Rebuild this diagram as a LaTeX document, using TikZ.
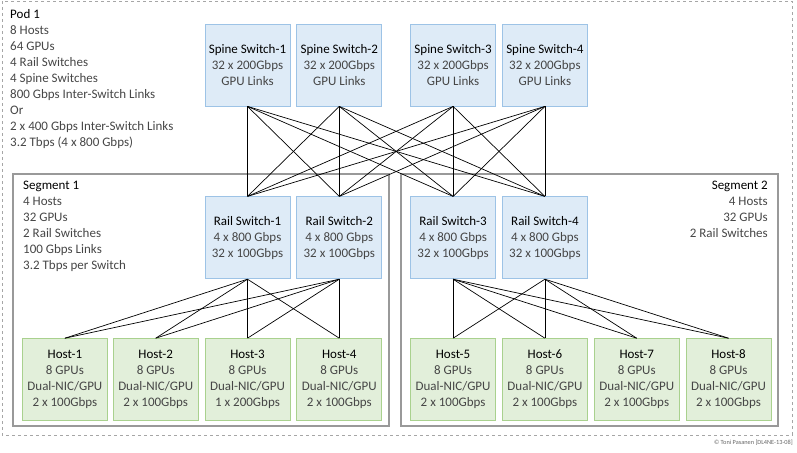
\documentclass[tikz,border=0pt]{standalone}
\usepackage{fontspec}
\setmainfont{Carlito}
\usepackage{tikz}
\usetikzlibrary{positioning}

\definecolor{spineFill}{RGB}{222,235,247}
\definecolor{spineDraw}{RGB}{157,195,230}
\definecolor{hostFill}{RGB}{226,239,218}
\definecolor{hostDraw}{RGB}{169,209,142}
\definecolor{textGray}{RGB}{70,70,70}

\begin{document}
\begin{tikzpicture}[x=1pt, y=-1pt, node distance=6pt]
\tikzset{
    switchStyle/.style={rectangle, fill=spineFill, draw=spineDraw, line width=0.8pt, minimum width=85pt, minimum height=82pt, inner sep=0pt, align=center, text=textGray, font=\fontsize{13}{16}\selectfont},
    hostStyle/.style={rectangle, fill=hostFill, draw=hostDraw, line width=0.8pt, minimum width=85pt, minimum height=82pt, inner sep=0pt, align=center, text=textGray, font=\fontsize{13}{16}\selectfont},
    infoStyle/.style={inner sep=0pt, text=textGray, font=\fontsize{13}{16}\selectfont},
    podLine/.style={draw=black!35, dashed, line width=0.8pt},
    segmentLine/.style={draw=black!40, line width=1.1pt},
    linkLine/.style={black, line width=0.7pt}
}

\useasboundingbox (0,0) rectangle (797,452);

% pod and segments
\draw[podLine] (2,1) rectangle (792,435);
\draw[segmentLine] (13,174) rectangle (389,426);
\draw[segmentLine] (401,174) rectangle (778,426);

\node[infoStyle, anchor=north west, align=left] (podInfo) at (10,9) {{\color{black}Pod 1}\\8 Hosts\\64 GPUs\\4 Rail Switches\\4 Spine Switches\\800 Gbps Inter-Switch Links\\Or\\2 x 400 Gbps Inter-Switch Links\\3.2 Tbps (4 x 800 Gbps)};
\node[infoStyle, anchor=north west, align=left] (segOneInfo) at (23,181) {{\color{black}Segment 1}\\4 Hosts\\32 GPUs\\2 Rail Switches\\100 Gbps Links\\3.2 Tbps per Switch};
\node[infoStyle, anchor=north east, align=right] (segTwoInfo) at (768,181) {{\color{black}Segment 2}\\4 Hosts\\32 GPUs\\2 Rail Switches};

% spine switches
\node[switchStyle] (spine1) at (247.5,65) {{\color{black}Spine Switch-1}\\32 x 200Gbps\\GPU Links};
\node[switchStyle, right=6pt of spine1] (spine2) {{\color{black}Spine Switch-2}\\32 x 200Gbps\\GPU Links};
\node[switchStyle, right=28pt of spine2] (spine3) {{\color{black}Spine Switch-3}\\32 x 200Gbps\\GPU Links};
\node[switchStyle, right=6pt of spine3] (spine4) {{\color{black}Spine Switch-4}\\32 x 200Gbps\\GPU Links};

% rail switches
\node[switchStyle, below=90pt of spine1] (rail1) {{\color{black}Rail Switch-1}\\4 x 800 Gbps\\32 x 100Gbps};
\node[switchStyle, below=90pt of spine2] (rail2) {{\color{black}Rail Switch-2}\\4 x 800 Gbps\\32 x 100Gbps};
\node[switchStyle, below=90pt of spine3] (rail3) {{\color{black}Rail Switch-3}\\4 x 800 Gbps\\32 x 100Gbps};
\node[switchStyle, below=90pt of spine4] (rail4) {{\color{black}Rail Switch-4}\\4 x 800 Gbps\\32 x 100Gbps};

% hosts
\node[hostStyle, below=59pt of rail1] (host3) {{\color{black}Host-3}\\8 GPUs\\Dual-NIC/GPU\\1 x 200Gbps};
\node[hostStyle, left=6pt of host3] (host2) {{\color{black}Host-2}\\8 GPUs\\Dual-NIC/GPU\\2 x 100Gbps};
\node[hostStyle, left=5pt of host2] (host1) {{\color{black}Host-1}\\8 GPUs\\Dual-NIC/GPU\\2 x 100Gbps};
\node[hostStyle, below=59pt of rail2] (host4) {{\color{black}Host-4}\\8 GPUs\\Dual-NIC/GPU\\2 x 100Gbps};
\node[hostStyle, below=59pt of rail3] (host5) {{\color{black}Host-5}\\8 GPUs\\Dual-NIC/GPU\\2 x 100Gbps};
\node[hostStyle, below=59pt of rail4] (host6) {{\color{black}Host-6}\\8 GPUs\\Dual-NIC/GPU\\2 x 100Gbps};
\node[hostStyle, right=6pt of host6] (host7) {{\color{black}Host-7}\\8 GPUs\\Dual-NIC/GPU\\2 x 100Gbps};
\node[hostStyle, right=6pt of host7] (host8) {{\color{black}Host-8}\\8 GPUs\\Dual-NIC/GPU\\2 x 100Gbps};

% links spine - rail
\foreach \s in {1,2,3,4}
  \foreach \r in {1,2,3,4}
    \draw[linkLine] (spine\s.south) -- (rail\r.north);

% links rail - host
\foreach \r in {1,2}
  \foreach \h in {1,2,3,4}
    \draw[linkLine] (rail\r.south) -- (host\h.north);
\foreach \r in {3,4}
  \foreach \h in {5,6,7,8}
    \draw[linkLine] (rail\r.south) -- (host\h.north);

\node[inner sep=0pt, anchor=east, text=black!60, font=\fontsize{6.3}{7}\selectfont] (credit) at (793,443) {© Toni Pasanen [DL4NE-13-08]};

\end{tikzpicture}
\end{document}
